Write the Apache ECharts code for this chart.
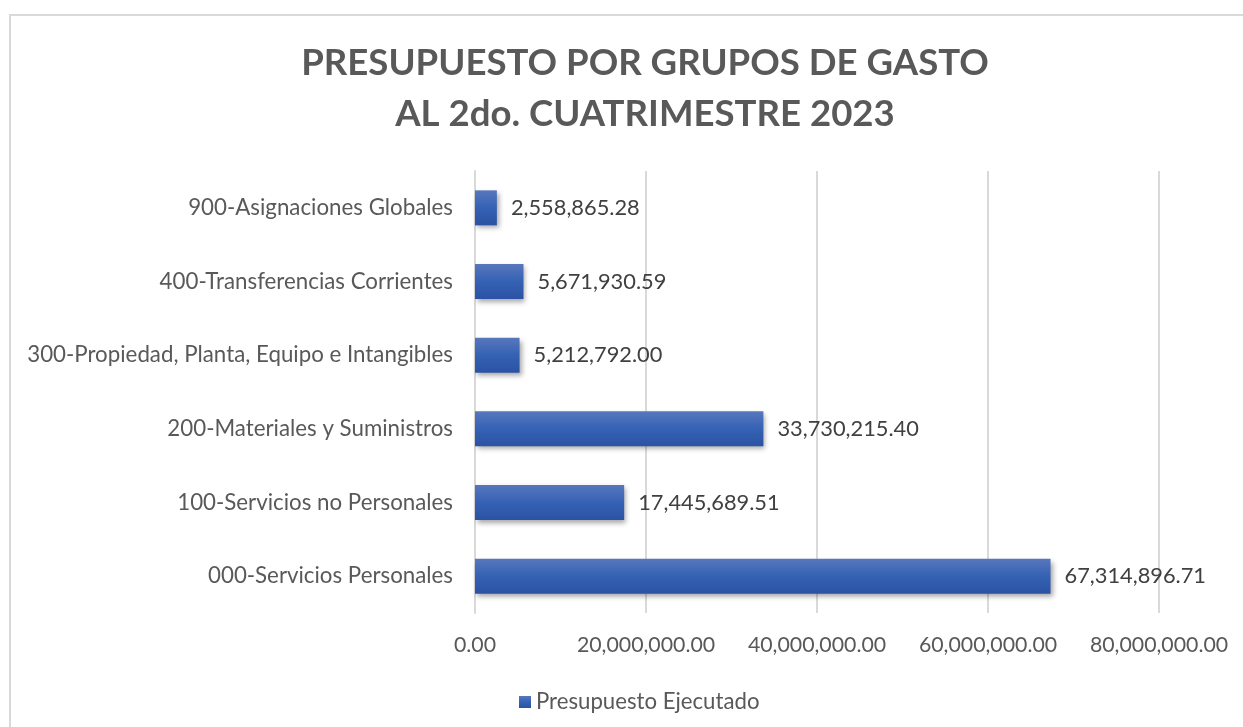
<!DOCTYPE html>
<html>
<head>
<meta charset="utf-8">
<script src="https://cdn.jsdelivr.net/npm/echarts@6/dist/echarts.min.js"></script>
<style>
  html, body { margin: 0; padding: 0; background: #fff; }
  #main { width: 1243px; height: 727px; }
</style>
</head>
<body>
<div id="main"></div>
<script>
// datos del grafico
var categorias = [
    '000-Servicios Personales',
    '100-Servicios no Personales',
    '200-Materiales y Suministros',
    '300-Propiedad, Planta, Equipo e Intangibles',
    '400-Transferencias Corrientes',
    '900-Asignaciones Globales'
];
var ejecutado = [67314896.71, 17445689.51, 33730215.40, 5212792.00, 5671930.59, 2558865.28];
var ejeX = { min: 0, max: 80000000, interval: 20000000 };

function formato(v) {
    return Number(v).toLocaleString('en-US', { minimumFractionDigits: 2, maximumFractionDigits: 2 });
}

var myChart = echarts.init(document.getElementById('main'));
var fuente = 'Lato';

var option = {
    backgroundColor: '#fff',
    animation: false,
    title: {
        text: 'PRESUPUESTO POR GRUPOS DE GASTO\nAL 2do. CUATRIMESTRE 2023',
        left: 640,
        top: 33,
        textAlign: 'center',
        textStyle: {
            fontFamily: fuente,
            fontWeight: 'bold',
            fontSize: 36.6,
            lineHeight: 51,
            color: '#595959'
        }
    },
    graphic: [{
        type: 'rect',
        shape: { x: 10, y: 15, width: 1400, height: 900 },
        style: { fill: 'none', stroke: '#d9d9d9', lineWidth: 2 },
        silent: true
    }],
    legend: {
        data: ['Presupuesto Ejecutado'],
        left: 514,
        top: 686,
        icon: 'rect',
        itemWidth: 12,
        itemHeight: 12,
        itemGap: 6,
        textStyle: { fontFamily: fuente, fontSize: 22.2, color: '#595959' }
    },
    grid: {
        left: 475,
        right: 84,
        top: 171,
        bottom: 114,
        outerBoundsMode: 'none'
    },
    xAxis: {
        type: 'value',
        min: ejeX.min,
        max: ejeX.max,
        interval: ejeX.interval,
        axisLine: { show: false },
        axisTick: { show: false },
        splitLine: { lineStyle: { color: '#d9d9d9', width: 2 } },
        axisLabel: {
            margin: 22,
            fontFamily: fuente,
            fontSize: 21.3,
            color: '#595959',
            formatter: formato
        }
    },
    yAxis: {
        type: 'category',
        data: categorias,
        axisLine: { show: true, lineStyle: { color: '#d9d9d9', width: 2 } },
        axisTick: { show: false },
        axisLabel: {
            margin: 22,
            fontFamily: fuente,
            fontSize: 22.3,
            color: '#595959'
        }
    },
    series: [{
        name: 'Presupuesto Ejecutado',
        type: 'bar',
        data: ejecutado,
        barWidth: 35,
        itemStyle: {
            color: new echarts.graphic.LinearGradient(0, 0, 0, 1, [
                { offset: 0, color: '#5877bd' },
                { offset: 0.5, color: '#3562b4' },
                { offset: 1, color: '#2b52a3' }
            ]),
            shadowColor: 'rgba(0,0,0,0.35)',
            shadowBlur: 5,
            shadowOffsetX: 2,
            shadowOffsetY: 3
        },
        label: {
            show: true,
            position: 'right',
            distance: 14,
            fontFamily: fuente,
            fontSize: 21.8,
            color: '#404040',
            formatter: function(p) {
                return formato(p.value);
            }
        }
    }]
};
myChart.setOption(option);
</script>
</body>
</html>
